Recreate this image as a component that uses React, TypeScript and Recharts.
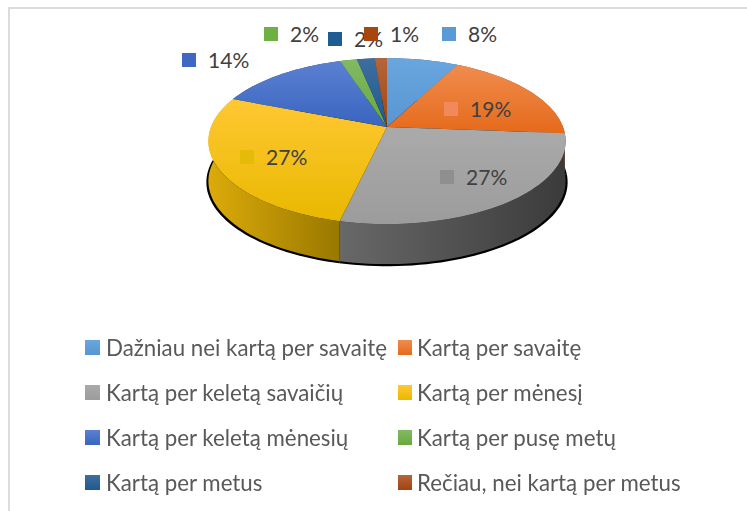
import { Legend, Pie, PieChart } from "recharts";

const categories = [
  "Dažniau nei kartą per savaitę",
  "Kartą per savaitę",
  "Kartą per keletą savaičių",
  "Kartą per mėnesį",
  "Kartą per keletą mėnesių",
  "Kartą per pusę metų",
  "Kartą per metus",
  "Rečiau, nei kartą per metus",
];
// the labels show them rounded
const shares = [7.6, 18.6, 27.4, 27.4, 14, 1.8, 1.9, 1.3];

const FONT = "Lato, 'Open Sans', sans-serif";
const topShades = [
  ["#6aa6de", "#5796d4"],
  ["#f08c4e", "#e56a1b"],
  ["#aaaaaa", "#9c9c9c"],
  ["#ffc832", "#e9b800"],
  ["#5a80d2", "#3965bf"],
  ["#82b964", "#68a93c"],
  ["#3f6d9f", "#1e5a8e"],
  ["#b6653d", "#a0440f"],
];
const wallShades = [
  ["#3d6f9e", "#3d6f9e"],
  ["#a04a12", "#a04a12"],
  ["#686868", "#3b3b3b"],
  ["#dcab0a", "#997800"],
  ["#284a8c", "#284a8c"],
  ["#4a7a2a", "#4a7a2a"],
  ["#143e64", "#143e64"],
  ["#70300a", "#70300a"],
];
const swatchFills = ["#5b9bd5", "#f2895a", "#8f8f8f", "#e5bb08", "#3f68c2", "#6fb043", "#1f5c92", "#a8460f"];
// where Excel left each data label: swatch x, middle y
const labelSpots = [
  [442, 34],
  [444, 109],
  [440, 177],
  [240, 157],
  [182, 60],
  [264, 34],
  [328, 39],
  [364, 34],
];

const tableData = categories.map((name, i) => ({ name, value: shares[i], fill: topShades[i][1] }));

// flat circle seen in perspective, far edge at the top
const TILT = 0.17;
const SQUASH = 0.458;
const rad = (d: number) => (d * Math.PI) / 180;

function project(cx: number, cy: number, r: number, clock: number, drop = 0) {
  const w = 1 + TILT * Math.cos(rad(clock));
  return [
    cx + (r * Math.sin(rad(clock))) / w,
    cy + drop - (r * SQUASH * Math.cos(rad(clock))) / w,
  ];
}

function rimPoints(p: any, r: number, drop = 0) {
  const from = 90 - p.startAngle;
  const to = 90 - p.endAngle;
  const steps = Math.max(2, Math.ceil((to - from) / 2));
  const pts = [];
  for (let i = 0; i <= steps; i++) {
    pts.push(project(p.cx, p.cy, r, from + ((to - from) * i) / steps, drop));
  }
  return pts;
}

const toPath = (pts: number[][]) => pts.map((q, i) => `${i ? "L" : "M"}${q[0]},${q[1]}`).join(" ");

function ShadowSlice(p: any) {
  const rim = rimPoints(p, p.outerRadius + 2, 41);
  return <path d={`${toPath(rim)} L${p.cx},${p.cy + 41} Z`} fill="#000000" />;
}

function WallSlice(p: any) {
  const top = rimPoints(p, p.outerRadius);
  const bottom = rimPoints(p, p.outerRadius, 40).reverse();
  const id = `wall-${p.index}`;
  return (
    <g>
      <linearGradient id={id} x1="0" y1="0" x2="1" y2="0">
        <stop offset="0%" stopColor={wallShades[p.index][0]} />
        <stop offset="100%" stopColor={wallShades[p.index][1]} />
      </linearGradient>
      <path d={`${toPath(top)} ${toPath(bottom).replace("M", "L")} Z`} fill={`url(#${id})`} />
    </g>
  );
}

function TopSlice(p: any) {
  const rim = rimPoints(p, p.outerRadius);
  const id = `top-${p.index}`;
  return (
    <g>
      <linearGradient id={id} x1="0" y1="0" x2="0" y2="1">
        <stop offset="0%" stopColor={topShades[p.index][0]} />
        <stop offset="100%" stopColor={topShades[p.index][1]} />
      </linearGradient>
      <path d={`M${p.cx},${p.cy} ${toPath(rim).replace("M", "L")} Z`} fill={`url(#${id})`} />
    </g>
  );
}

function SliceLabel(p: any) {
  const [x, y] = labelSpots[p.index];
  return (
    <g>
      <rect x={x} y={y - 7} width={14} height={14} fill={swatchFills[p.index]} />
      <text x={x + 26} y={y} dy="0.36em" fontFamily={FONT} fontSize={21} fill="#404040">
        {Math.round(p.value)}%
      </text>
    </g>
  );
}

function LegendBlock({ payload }: any) {
  const seen = new Set();
  const items = (payload || []).filter((entry: any) => {
    if (seen.has(entry.value)) return false;
    seen.add(entry.value);
    return true;
  });
  return (
    <div style={{ display: "grid", gridTemplateColumns: "313px 320px", gridAutoRows: "45.3px" }}>
      {items.map((entry: any, n: number) => {
        const i = categories.indexOf(entry.value);
        const rightColumn = n % 2 === 1;
        return (
          <div key={entry.value} style={{ display: "flex", alignItems: "center", height: 30 }}>
            <span
              style={{
                width: rightColumn ? 14 : 15,
                height: 15,
                marginRight: rightColumn ? 5 : 6,
                background: `linear-gradient(${topShades[i][0]}, ${topShades[i][1]})`,
              }}
            />
            <span style={{ fontFamily: FONT, fontSize: 22.3, color: "#595959", whiteSpace: "nowrap" }}>{entry.value}</span>
          </div>
        );
      })}
    </div>
  );
}

export default function App() {
  return (
    <div style={{ position: "fixed", left: 0, top: 0, width: 747, height: 511, background: "#ffffff" }}>
      <div
        style={{
          position: "absolute",
          left: 8,
          top: 7,
          right: 0,
          bottom: 0,
          borderLeft: "2px solid #dcdcdc",
          borderTop: "2px solid #dcdcdc",
        }}
      />
      <PieChart
        width={747}
        height={511}
        margin={{ top: 0, right: 0, bottom: 0, left: 0 }}
        style={{ position: "absolute", left: 0, top: 0 }}
      >
        <Pie
          data={tableData}
          dataKey="value"
          nameKey="name"
          cx={387}
          cy={127}
          outerRadius={176}
          startAngle={90}
          endAngle={-270}
          stroke="none"
          legendType="none"
          shape={ShadowSlice}
          isAnimationActive={false}
        />
        <Pie
          data={tableData}
          dataKey="value"
          nameKey="name"
          cx={387}
          cy={127}
          outerRadius={176}
          startAngle={90}
          endAngle={-270}
          stroke="none"
          legendType="none"
          shape={WallSlice}
          isAnimationActive={false}
        />
        <Pie
          data={tableData}
          dataKey="value"
          nameKey="name"
          cx={387}
          cy={127}
          outerRadius={176}
          startAngle={90}
          endAngle={-270}
          stroke="none"
          shape={TopSlice}
          label={SliceLabel}
          labelLine={false}
          isAnimationActive={false}
        />
        <Legend
          content={<LegendBlock />}
          itemSorter={null}
          wrapperStyle={{ left: 85, top: 332, width: 640, bottom: "auto" }}
        />
      </PieChart>
    </div>
  );
}
